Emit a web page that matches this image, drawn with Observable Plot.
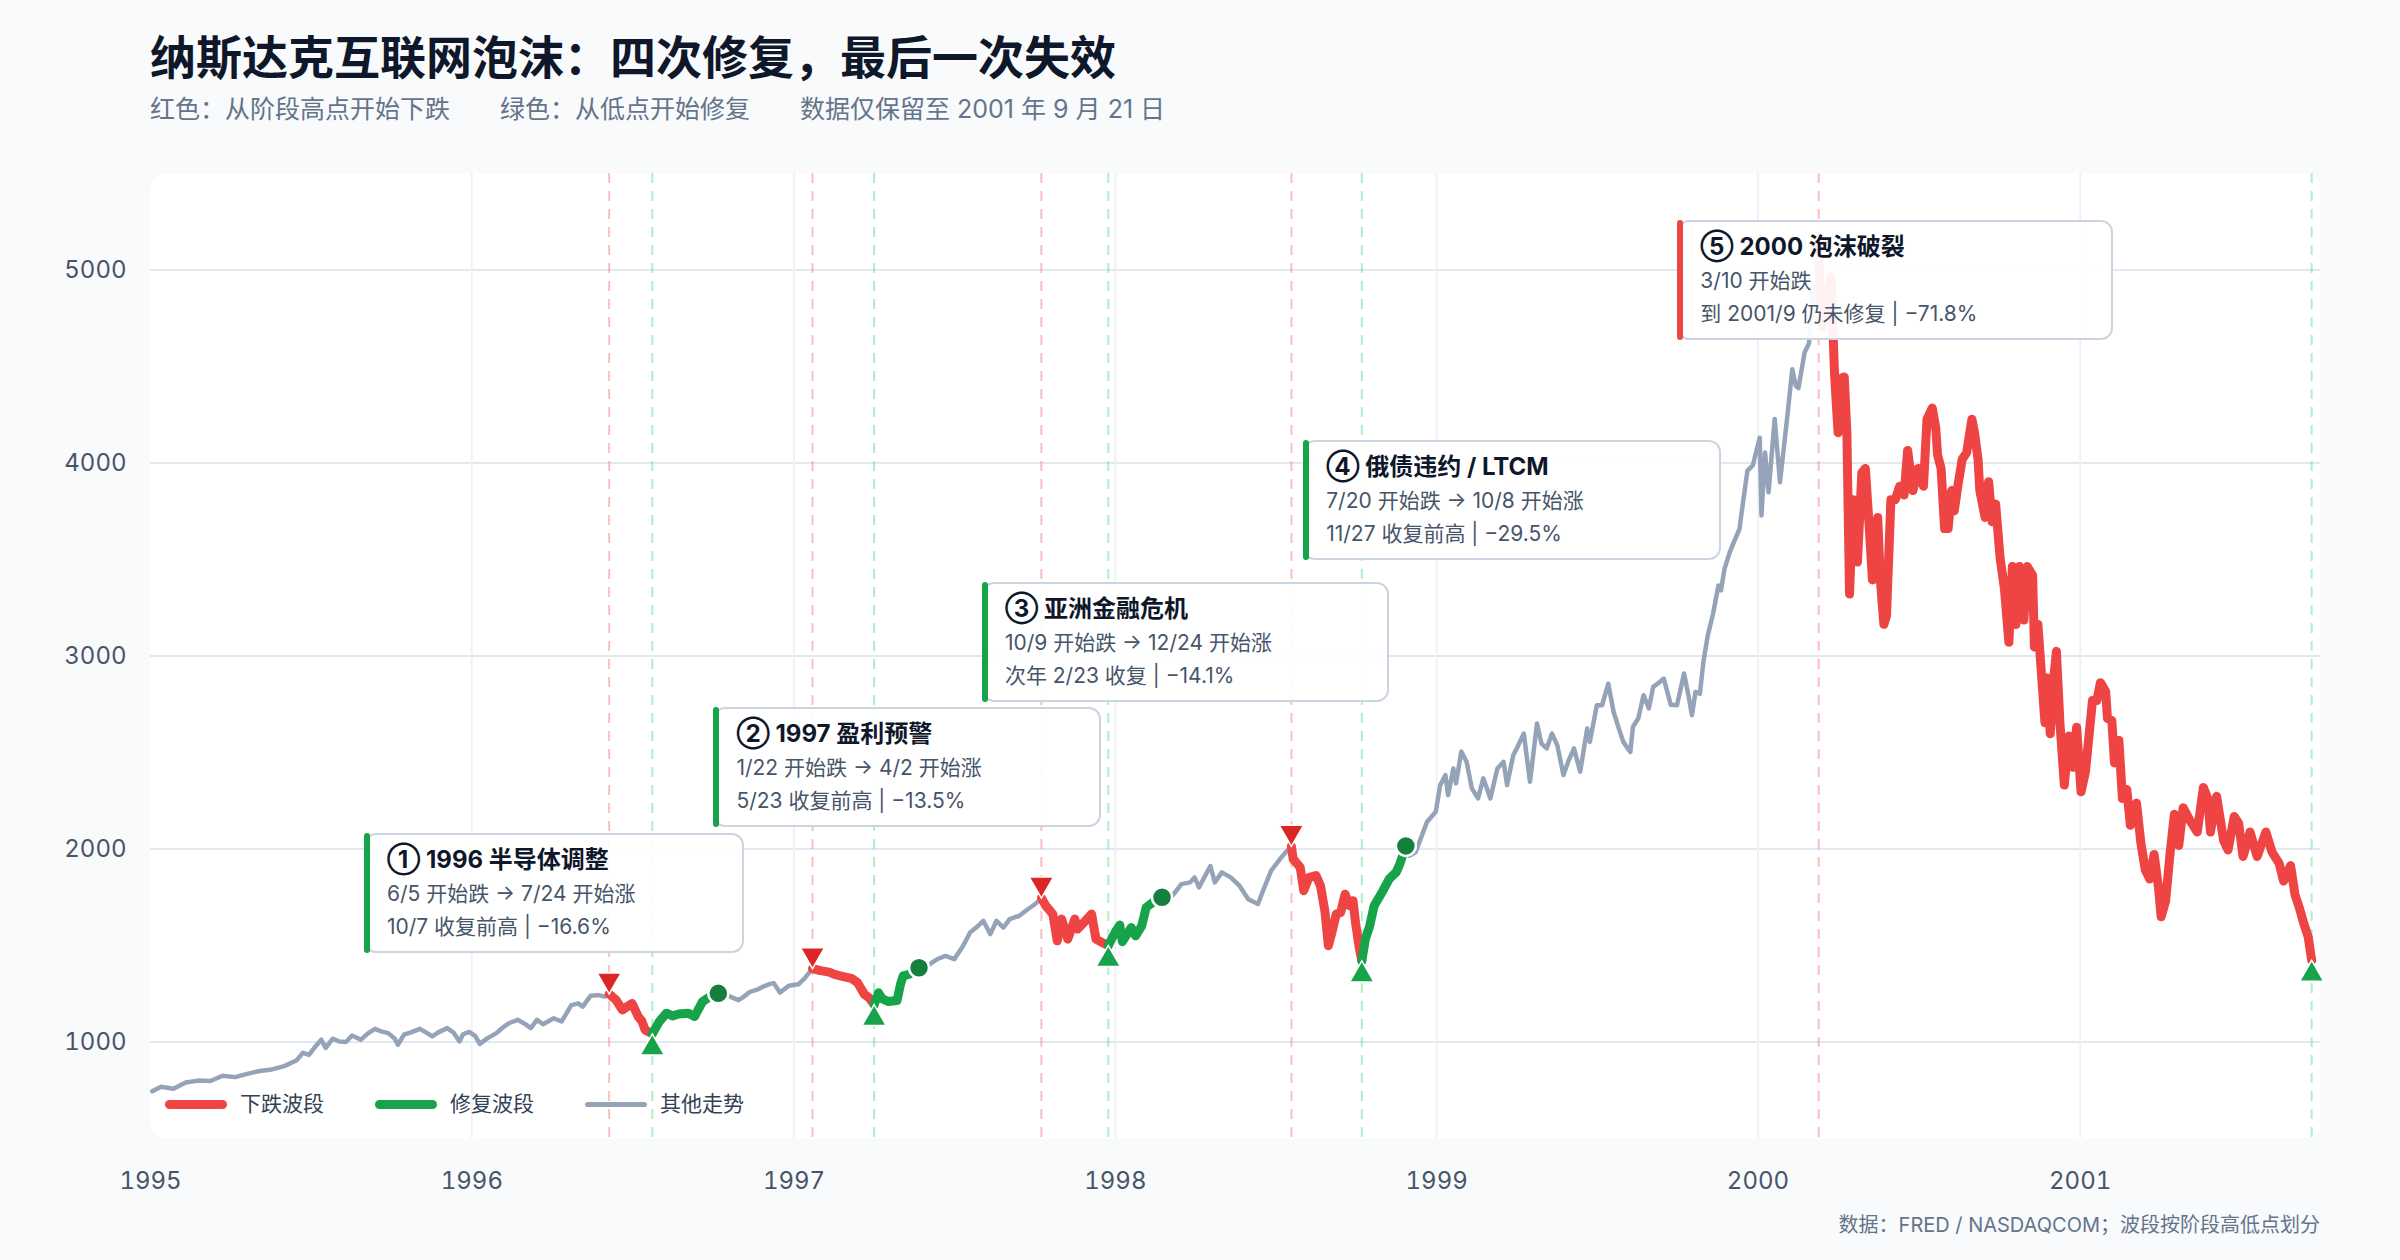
<!DOCTYPE html>
<html>
<head>
<meta charset="utf-8">
<script src="https://cdn.jsdelivr.net/npm/d3@7"></script>
<script src="https://cdn.jsdelivr.net/npm/@observablehq/plot@0.6"></script>
<style>
html,body{margin:0;padding:0;background:#f8fafc;}
#root{position:relative;width:2400px;height:1260px;background:#f8fafc;font-family:Inter,"Noto Sans CJK SC",sans-serif;overflow:hidden;}
#title{position:absolute;left:150px;top:26px;font-size:46px;font-weight:700;color:#0f172a;line-height:56px;font-family:"Noto Sans CJK SC",Inter,sans-serif;}
#subtitle{position:absolute;left:150px;top:94px;font-size:25px;color:#64748b;line-height:30px;white-space:nowrap;}
#subtitle span{margin-right:50px;}
#chart{position:absolute;left:0;top:140px;}
#caption{position:absolute;right:80px;top:1211px;font-size:20px;color:#64748b;line-height:28px;white-space:nowrap;}
.ann{position:absolute;box-sizing:border-box;height:120px;background:rgba(255,255,255,0.93);border:2px solid #cbd5e1;border-radius:12px;padding:8px 0 0 21px;white-space:nowrap;}
.ann .bar{position:absolute;left:-2px;top:-2px;bottom:-2px;width:6px;border-radius:3px;}
.ann .t{font-size:24px;font-weight:700;color:#0f172a;line-height:34px;}
.ann .l{font-size:21px;color:#475569;line-height:33px;}
#legend{position:absolute;left:165px;top:1090px;height:28px;display:flex;align-items:center;font-size:21px;color:#334155;}
#legend .sw{display:inline-block;width:62px;border-radius:5px;margin-right:13px;}
#legend .lb{margin-right:51px;line-height:28px;}
</style>
</head>
<body>
<div id="root">
  <div id="title"></div>
  <div id="subtitle"></div>
  <div id="chart"></div>
  <div id="legend"></div>
  <div id="caption"></div>
</div>
<script>
// ---------- text ----------
const titleText = "纳斯达克互联网泡沫：四次修复，最后一次失效";
const subtitleParts = ["红色：从阶段高点开始下跌", "绿色：从低点开始修复", "数据仅保留至 2001 年 9 月 21 日"];
const captionText = "数据：FRED / NASDAQCOM；波段按阶段高低点划分";
const legendLabels = ["下跌波段", "修复波段", "其他走势"];

// ---------- ticks ----------
const yTicks = [1000, 2000, 3000, 4000, 5000];
const xTickYears = ["1995-01-01","1996-01-01","1997-01-01","1998-01-01","1999-01-01","2000-01-01","2001-01-01"];

// ---------- episodes ----------
const peakDates    = ["1996-06-05","1997-01-22","1997-10-09","1998-07-20","2000-03-10"];
const troughDates  = ["1996-07-24","1997-04-02","1997-12-24","1998-10-08","2001-09-21"];
const recoverDates = ["1996-10-07","1997-05-23","1998-02-23","1998-11-27", null];

const annTitles = ["① 1996 半导体调整","② 1997 盈利预警","③ 亚洲金融危机","④ 俄债违约 / LTCM","⑤ 2000 泡沫破裂"];
const annLine1  = ["6/5 开始跌 → 7/24 开始涨","1/22 开始跌 → 4/2 开始涨","10/9 开始跌 → 12/24 开始涨","7/20 开始跌 → 10/8 开始涨","3/10 开始跌"];
const annLine2  = ["10/7 收复前高 | −16.6%","5/23 收复前高 | −13.5%","次年 2/23 收复 | −14.1%","11/27 收复前高 | −29.5%","到 2001/9 仍未修复 | −71.8%"];
const annKind   = ["up","up","up","up","down"];
// annotation layout: top-left corner of each box (data units) and box width (px)
const annAnchorDate  = ["1995-09-01","1996-10-02","1997-08-03","1998-08-03","1999-10-02"];
const annAnchorValue = [2078, 2731, 3383, 4119, 5254];
const annWidth       = [380, 388, 407, 418, 436];

// ---------- NASDAQ Composite ----------
const nasdaq = [
["1995-01-03",745],["1995-01-13",768],["1995-01-27",758],["1995-02-10",790],["1995-02-24",800],
["1995-03-10",798],["1995-03-24",825],["1995-04-07",818],["1995-04-21",835],["1995-05-05",850],
["1995-05-19",858],["1995-06-02",875],["1995-06-16",905],["1995-06-23",944],["1995-06-30",933],
["1995-07-07",975],["1995-07-14",1012],["1995-07-19",969],["1995-07-27",1017],["1995-08-04",1002],
["1995-08-11",1000],["1995-08-18",1034],["1995-08-28",1012],["1995-09-05",1045],["1995-09-13",1068],
["1995-09-20",1055],["1995-09-28",1046],["1995-10-05",1020],["1995-10-09",986],["1995-10-16",1038],
["1995-10-24",1050],["1995-11-03",1068],["1995-11-10",1050],["1995-11-17",1029],["1995-11-24",1050],
["1995-12-04",1072],["1995-12-11",1050],["1995-12-18",1003],["1995-12-22",1040],["1995-12-29",1052],
["1996-01-05",1030],["1996-01-10",990],["1996-01-19",1020],["1996-01-29",1046],["1996-02-05",1075],
["1996-02-12",1097],["1996-02-22",1115],["1996-03-01",1095],["1996-03-08",1072],["1996-03-15",1115],
["1996-03-22",1092],["1996-04-03",1123],["1996-04-12",1106],["1996-04-23",1191],["1996-05-01",1200],
["1996-05-06",1183],["1996-05-15",1240],["1996-05-24",1243],["1996-05-31",1235],["1996-06-05",1249],
["1996-06-13",1217],["1996-06-20",1166],["1996-06-26",1185],["1996-07-01",1200],["1996-07-08",1132],
["1996-07-12",1110],["1996-07-16",1062],["1996-07-24",1042],["1996-08-01",1106],["1996-08-09",1149],
["1996-08-16",1135],["1996-08-23",1145],["1996-09-03",1149],["1996-09-10",1132],["1996-09-19",1209],
["1996-09-27",1234],["1996-10-07",1252],["1996-10-14",1255],["1996-10-21",1234],["1996-10-30",1217],
["1996-11-05",1235],["1996-11-12",1260],["1996-11-21",1273],["1996-11-26",1285],["1996-12-04",1300],
["1996-12-09",1305],["1996-12-16",1256],["1996-12-26",1291],["1997-01-06",1299],["1997-01-13",1330],
["1997-01-22",1380],["1997-01-31",1370],["1997-02-10",1362],["1997-02-16",1350],["1997-02-25",1340],
["1997-03-07",1330],["1997-03-14",1308],["1997-03-22",1247],["1997-03-27",1230],["1997-04-02",1194],
["1997-04-07",1255],["1997-04-11",1225],["1997-04-18",1210],["1997-04-28",1215],["1997-05-02",1300],
["1997-05-05",1343],["1997-05-12",1351],["1997-05-16",1365],["1997-05-23",1385],["1997-06-02",1395],
["1997-06-07",1412],["1997-06-13",1430],["1997-06-22",1446],["1997-07-02",1429],["1997-07-12",1498],
["1997-07-20",1567],["1997-07-27",1593],["1997-08-04",1628],["1997-08-12",1559],["1997-08-19",1628],
["1997-08-27",1593],["1997-09-03",1637],["1997-09-14",1654],["1997-09-24",1689],["1997-10-02",1715],
["1997-10-09",1746],["1997-10-14",1706],["1997-10-22",1663],["1997-10-27",1524],["1997-11-01",1637],
["1997-11-08",1533],["1997-11-16",1637],["1997-11-19",1585],["1997-11-28",1628],["1997-12-05",1663],
["1997-12-10",1533],["1997-12-17",1516],["1997-12-24",1500],["1998-01-01",1570],["1998-01-06",1606],
["1998-01-09",1520],["1998-01-19",1593],["1998-01-24",1550],["1998-01-31",1602],["1998-02-05",1697],
["1998-02-15",1732],["1998-02-23",1750],["1998-03-07",1758],["1998-03-17",1818],["1998-03-27",1827],
["1998-04-01",1853],["1998-04-06",1801],["1998-04-14",1870],["1998-04-19",1912],["1998-04-24",1827],
["1998-05-02",1879],["1998-05-12",1853],["1998-05-22",1810],["1998-06-01",1740],["1998-06-12",1715],
["1998-06-17",1775],["1998-06-27",1888],["1998-07-07",1948],["1998-07-13",1980],["1998-07-20",2014],
["1998-07-22",1948],["1998-07-30",1905],["1998-08-03",1784],["1998-08-09",1853],["1998-08-17",1862],
["1998-08-22",1810],["1998-08-27",1680],["1998-08-31",1499],["1998-09-04",1567],["1998-09-09",1663],
["1998-09-14",1671],["1998-09-19",1766],["1998-09-24",1706],["1998-09-28",1732],["1998-10-01",1613],
["1998-10-05",1490],["1998-10-08",1420],["1998-10-12",1533],["1998-10-17",1602],["1998-10-22",1706],
["1998-11-01",1784],["1998-11-08",1844],["1998-11-16",1879],["1998-11-20",1920],["1998-11-27",2016],
["1998-12-01",1965],["1998-12-08",1983],["1998-12-14",2055],["1998-12-21",2140],["1998-12-31",2193],
["1999-01-05",2331],["1999-01-11",2383],["1999-01-14",2279],["1999-01-20",2417],["1999-01-23",2340],
["1999-01-29",2505],["1999-02-04",2452],["1999-02-10",2314],["1999-02-17",2262],["1999-02-23",2366],
["1999-03-03",2262],["1999-03-11",2417],["1999-03-18",2452],["1999-03-22",2331],["1999-03-29",2486],
["1999-04-02",2521],["1999-04-10",2598],["1999-04-17",2348],["1999-04-25",2650],["1999-04-30",2547],
["1999-05-06",2521],["1999-05-12",2598],["1999-05-18",2538],["1999-05-25",2383],["1999-05-31",2460],
["1999-06-06",2521],["1999-06-13",2400],["1999-06-21",2624],["1999-06-24",2555],["1999-07-02",2745],
["1999-07-08",2745],["1999-07-15",2857],["1999-07-21",2710],["1999-07-27",2624],["1999-08-01",2555],
["1999-08-09",2503],["1999-08-12",2633],["1999-08-18",2676],["1999-08-24",2797],["1999-08-30",2728],
["1999-09-04",2840],["1999-09-10",2860],["1999-09-16",2883],["1999-09-20",2814],["1999-09-24",2747],
["1999-10-01",2745],["1999-10-09",2909],["1999-10-14",2797],["1999-10-18",2693],["1999-10-22",2814],
["1999-10-27",2805],["1999-10-31",2969],["1999-11-05",3107],["1999-11-11",3219],["1999-11-17",3365],
["1999-11-20",3340],["1999-11-24",3452],["1999-11-30",3538],["1999-12-03",3572],["1999-12-11",3659],
["1999-12-14",3762],["1999-12-20",3960],["1999-12-26",3986],["2000-01-03",4131],["2000-01-05",3728],
["2000-01-09",4055],["2000-01-13",3848],["2000-01-20",4228],["2000-01-26",3900],["2000-02-03",4228],
["2000-02-09",4486],["2000-02-13",4400],["2000-02-16",4388],["2000-02-23",4573],["2000-02-28",4620],
["2000-03-03",4914],["2000-03-07",4750],["2000-03-10",5048],["2000-03-14",4707],["2000-03-17",4798],
["2000-03-24",4963],["2000-03-28",4458],["2000-04-01",4157],["2000-04-03",4435],["2000-04-08",4446],
["2000-04-11",4157],["2000-04-14",3321],["2000-04-18",3810],["2000-04-23",3487],["2000-04-28",3949],
["2000-05-02",3972],["2000-05-06",3695],["2000-05-10",3394],["2000-05-16",3718],["2000-05-19",3394],
["2000-05-23",3164],["2000-05-26",3209],["2000-05-31",3810],["2000-06-05",3810],["2000-06-10",3880],
["2000-06-15",3834],["2000-06-19",4065],["2000-06-25",3857],["2000-07-01",3972],["2000-07-07",3880],
["2000-07-11",4227],["2000-07-17",4285],["2000-07-21",4180],["2000-07-23",4042],["2000-07-27",3972],
["2000-07-31",3660],["2000-08-04",3660],["2000-08-08",3857],["2000-08-11",3753],["2000-08-15",3880],
["2000-08-20",4019],["2000-08-25",4053],["2000-08-31",4227],["2000-09-03",4157],["2000-09-07",4019],
["2000-09-09",3857],["2000-09-15",3718],["2000-09-19",3903],["2000-09-23",3695],["2000-09-27",3787],
["2000-10-02",3510],["2000-10-07",3348],["2000-10-12",3071],["2000-10-16",3464],["2000-10-20",3163],
["2000-10-24",3464],["2000-10-29",3186],["2000-11-02",3464],["2000-11-08",3417],["2000-11-10",3047],
["2000-11-14",3163],["2000-11-18",2909],["2000-11-22",2654],["2000-11-24",2886],["2000-11-28",2597],
["2000-12-02",2886],["2000-12-05",3024],["2000-12-09",2654],["2000-12-14",2331],["2000-12-19",2585],
["2000-12-24",2423],["2000-12-28",2631],["2001-01-02",2296],["2001-01-07",2400],["2001-01-12",2631],
["2001-01-15",2770],["2001-01-20",2770],["2001-01-24",2862],["2001-01-30",2816],["2001-02-01",2677],
["2001-02-06",2666],["2001-02-09",2446],["2001-02-14",2562],["2001-02-18",2261],["2001-02-23",2308],
["2001-02-27",2123],["2001-03-06",2238],["2001-03-11",2030],["2001-03-16",1891],["2001-03-21",1845],
["2001-03-26",1972],["2001-03-31",1799],["2001-04-03",1649],["2001-04-08",1729],["2001-04-13",1972],
["2001-04-18",2180],["2001-04-23",2018],["2001-04-28",2214],["2001-05-06",2146],["2001-05-14",2088],
["2001-05-21",2319],["2001-05-26",2261],["2001-05-29",2088],["2001-06-05",2273],["2001-06-13",2042],
["2001-06-18",1995],["2001-06-25",2169],["2001-06-30",2134],["2001-07-05",1961],["2001-07-13",2088],
["2001-07-21",1961],["2001-07-31",2088],["2001-08-07",1984],["2001-08-15",1926],["2001-08-20",1834],
["2001-08-28",1914],["2001-09-02",1764],["2001-09-07",1695],["2001-09-12",1614],["2001-09-17",1545],
["2001-09-21",1423]
];

// ---------- build ----------
const parse = d3.utcParse("%Y-%m-%d");
const data = nasdaq.map(([d, v]) => ({date: parse(d), value: v}));
const findPt = s => data.find(d => +d.date === +parse(s));

const downSeg = [], upSeg = [];
peakDates.forEach((p, i) => {
  const pd = parse(p), td = parse(troughDates[i]);
  data.filter(d => d.date >= pd && d.date <= td).forEach(d => downSeg.push({...d, ep: i}));
  if (recoverDates[i]) {
    const rd = parse(recoverDates[i]);
    data.filter(d => d.date >= td && d.date <= rd).forEach(d => upSeg.push({...d, ep: i}));
  }
});
const peakPts = peakDates.map(findPt);
const troughPts = troughDates.map(findPt);
const recoverPts = recoverDates.filter(d => d).map(findPt);

const chart = Plot.plot({
  width: 2400,
  height: 1120,
  marginLeft: 150,
  marginRight: 80,
  marginTop: 33,
  marginBottom: 122,
  style: {background: "transparent", fontFamily: "Inter, 'Noto Sans CJK SC', sans-serif", fontSize: "24px", color: "#475569", overflow: "visible"},
  x: {type: "utc", domain: [parse("1995-01-01"), parse("2001-10-01")], label: null},
  y: {domain: [500, 5500], label: null},
  marks: [
    Plot.frame({fill: "white", stroke: "none", rx: 14}),
    Plot.gridY(yTicks, {stroke: "#e2e8f0", strokeOpacity: 1, strokeWidth: 2}),
    Plot.gridX(xTickYears.slice(1).map(parse), {stroke: "#eef2f7", strokeOpacity: 1, strokeWidth: 2}),
    Plot.ruleX(peakDates.map(parse), {stroke: "#f87171", strokeOpacity: 0.45, strokeWidth: 2, strokeDasharray: "10,8"}),
    Plot.ruleX(troughDates.map(parse), {stroke: "#4ade80", strokeOpacity: 0.45, strokeWidth: 2, strokeDasharray: "10,8"}),
    Plot.line(data, {x: "date", y: "value", stroke: "#94a3b8", strokeWidth: 4.5}),
    Plot.line(downSeg, {x: "date", y: "value", z: "ep", stroke: "#ef4444", strokeWidth: 9}),
    Plot.line(upSeg, {x: "date", y: "value", z: "ep", stroke: "#16a34a", strokeWidth: 9}),
    Plot.dot(peakPts, {x: "date", y: "value", symbol: "triangle", rotate: 180, r: 9, fill: "#dc2626", stroke: "white", strokeWidth: 1.5, dy: -14}),
    Plot.dot(troughPts, {x: "date", y: "value", symbol: "triangle", r: 9, fill: "#16a34a", stroke: "white", strokeWidth: 1.5, dy: 14}),
    Plot.dot(recoverPts, {x: "date", y: "value", r: 10, fill: "#15803d", stroke: "white", strokeWidth: 2.5}),
    Plot.axisY(yTicks, {tickSize: 0, tickPadding: 24, tickFormat: d => String(d), label: null}),
    Plot.axisX(xTickYears.map(parse), {tickSize: 0, tickPadding: 33, tickFormat: d3.utcFormat("%Y"), label: null})
  ]
});
document.getElementById("chart").appendChild(chart);

// ---------- text blocks ----------
document.getElementById("title").textContent = titleText;
const sub = document.getElementById("subtitle");
subtitleParts.forEach(t => { const s = document.createElement("span"); s.textContent = t; sub.appendChild(s); });
document.getElementById("caption").textContent = captionText;

// legend
const legendColors = ["#ef4444", "#16a34a", "#94a3b8"];
const legendHeights = [9, 9, 5];
const lg = document.getElementById("legend");
legendLabels.forEach((t, i) => {
  const sw = document.createElement("span");
  sw.className = "sw"; sw.style.background = legendColors[i]; sw.style.height = legendHeights[i] + "px";
  const lb = document.createElement("span"); lb.className = "lb"; lb.textContent = t;
  lg.appendChild(sw); lg.appendChild(lb);
});

// annotations positioned through the plot's scales
const sx = chart.scale("x"), sy = chart.scale("y");
const root = document.getElementById("root");
const chartTop = 140;
annTitles.forEach((t, i) => {
  const box = document.createElement("div");
  box.className = "ann";
  box.style.left = sx.apply(parse(annAnchorDate[i])) + "px";
  box.style.top = (sy.apply(annAnchorValue[i]) + chartTop) + "px";
  box.style.width = annWidth[i] + "px";
  const bar = document.createElement("div");
  bar.className = "bar";
  bar.style.background = annKind[i] === "up" ? "#16a34a" : "#ef4444";
  box.appendChild(bar);
  [["t", t], ["l", annLine1[i]], ["l", annLine2[i]]].forEach(([c, s]) => {
    const d = document.createElement("div"); d.className = c; d.textContent = s; box.appendChild(d);
  });
  root.appendChild(box);
});
</script>
</body>
</html>
